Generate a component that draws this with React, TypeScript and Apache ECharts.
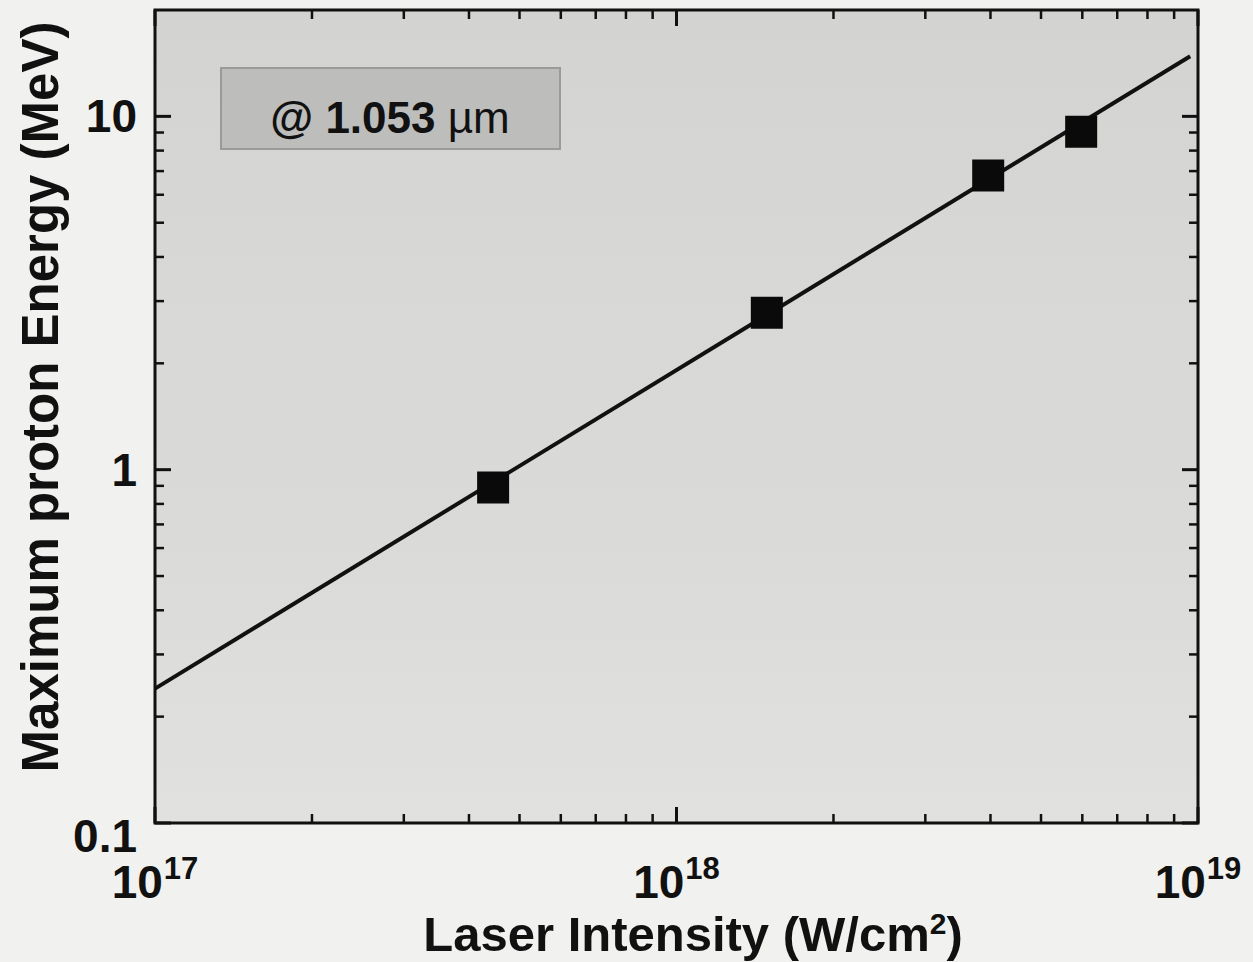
import React, { useEffect, useRef } from 'react';
import * as echarts from 'echarts';

// ---- data ----
const pointIntensity = [4.45e17, 1.49e18, 3.96e18, 5.97e18];
const pointEnergy = [0.89, 2.78, 6.8, 9.05];
const fitIntensity = [1e17, 9.66e18];
const fitEnergy = [0.24, 14.8];

const xMin = 1e17;
const xMax = 1e19;
const yMin = 0.1;
const yMax = 20;

const xTickValues = [1e17, 1e18, 1e19];
const xTickExponents = ['17', '18', '19'];
const yTickValues = [0.1, 1, 10];
const yTickLabels = ['0.1', '1', '10'];
const minorMultipliers = [2, 3, 4, 5, 6, 7, 8, 9];

const xTitleMain = 'Laser Intensity (W/cm';
const xTitleSup = '2';
const xTitleEnd = ')';
const yTitle = 'Maximum proton Energy (MeV)';
const annotationPrefix = '@ 1.053 ';
const annotationUnit = 'µm';

const FONT = '"Liberation Sans", Arial, Helvetica, sans-serif';

const sameLog = (a: number, b: number) => Math.abs(Math.log10(a) - Math.log10(b)) < 1e-6;

export default function App() {
  const ref = useRef<HTMLDivElement>(null);

  useEffect(() => {
    document.body.style.margin = '0';
    const chart = echarts.init(ref.current!, undefined, { renderer: 'svg' });

    const option: any = {
      animation: false,
      backgroundColor: '#f1f1ef',
      grid: {
        left: 155,
        right: 55,
        top: 10,
        bottom: 139,
        show: true,
        borderColor: '#111',
        borderWidth: 3,
        backgroundColor: new echarts.graphic.LinearGradient(0, 0, 0, 1, [
          { offset: 0, color: '#d3d3d2' },
          { offset: 0.35, color: '#d8d8d7' },
          { offset: 0.65, color: '#dadad9' },
          { offset: 1, color: '#e1e1e0' },
        ]),
      },
      xAxis: {
        type: 'log',
        logBase: 10,
        min: xMin,
        max: xMax,
        axisLine: { show: false },
        axisTick: { show: false },
        splitLine: { show: false },
        minorTick: { show: false },
        axisLabel: {
          margin: 30,
          color: '#111',
          fontFamily: FONT,
          fontWeight: 'bold',
          formatter: (v: number) => {
            const i = xTickValues.findIndex((t) => sameLog(t, v));
            return i < 0 ? '' : `{b|10}{s|${xTickExponents[i]}}`;
          },
          rich: {
            b: { fontSize: 46, fontWeight: 'bold', fontFamily: FONT, color: '#111', lineHeight: 52, verticalAlign: 'bottom' },
            s: { fontSize: 31, fontWeight: 'bold', fontFamily: FONT, color: '#111', lineHeight: 52, verticalAlign: 'top', padding: [0, 0, 0, 1] },
          },
        },
      },
      yAxis: {
        type: 'log',
        logBase: 10,
        min: yMin,
        max: yMax,
        axisLine: { show: false },
        axisTick: { show: false },
        splitLine: { show: false },
        minorTick: { show: false },
        axisLabel: {
          margin: 18,
          color: '#111',
          fontFamily: FONT,
          fontWeight: 'bold',
          fontSize: 46,
          formatter: (v: number) => {
            const i = yTickValues.findIndex((t) => sameLog(t, v));
            if (i < 0) return '';
            return i === 0 ? `{low|${yTickLabels[i]}}` : yTickLabels[i];
          },
          rich: {
            low: { fontSize: 46, fontWeight: 'bold', fontFamily: FONT, color: '#111', padding: [26, 0, 0, 0] },
          },
        },
      },
      series: [
        {
          type: 'line',
          data: fitIntensity.map((x, i) => [x, fitEnergy[i]]),
          showSymbol: false,
          lineStyle: { color: '#111', width: 4 },
          z: 3,
        },
        {
          type: 'scatter',
          data: pointIntensity.map((x, i) => [x, pointEnergy[i]]),
          symbol: 'rect',
          symbolSize: 32,
          itemStyle: { color: '#0a0a0a', opacity: 1 },
          z: 4,
        },
      ],
    };
    chart.setOption(option);

    const px = (x: number, y: number) => chart.convertToPixel({ gridIndex: 0 }, [x, y]) as number[];
    const [left, bottom] = px(xMin, yMin);
    const [right, top] = px(xMax, yMax);

    const ticks: any[] = [];
    const addTick = (x1: number, y1: number, x2: number, y2: number, w: number) =>
      ticks.push({ type: 'line', z: 20, shape: { x1, y1, x2, y2 }, style: { stroke: '#111', lineWidth: w } });

    const MAJ = 16;
    const MIN = 9;
    // x ticks (bottom & top)
    xTickValues.forEach((t) => {
      const x = px(t, yMin)[0];
      addTick(x, bottom, x, bottom - MAJ, 3);
      addTick(x, top, x, top + MAJ, 3);
      if (t < xMax) {
        minorMultipliers.forEach((m) => {
          const xm = px(t * m, yMin)[0];
          addTick(xm, bottom, xm, bottom - MIN, 2.5);
          addTick(xm, top, xm, top + MIN, 2.5);
        });
      }
    });
    // y ticks (left & right)
    yTickValues.forEach((t) => {
      const y = px(xMin, t)[1];
      addTick(left, y, left + MAJ, y, 3);
      addTick(right, y, right - MAJ, y, 3);
      minorMultipliers.forEach((m) => {
        const v = t * m;
        if (v >= yMax) return;
        const ym = px(xMin, v)[1];
        addTick(left, ym, left + MIN, ym, 2.5);
        addTick(right, ym, right - MIN, ym, 2.5);
      });
    });

    chart.setOption({
      graphic: [
        ...ticks,
        {
          type: 'rect',
          z: 5,
          shape: { x: 221, y: 68, width: 339, height: 81 },
          style: { fill: '#bdbdbc', stroke: '#9a9a9a', lineWidth: 2 },
        },
        {
          type: 'text',
          z: 6,
          x: 390,
          y: 117,
          style: {
            text: `{a|${annotationPrefix}}{u|${annotationUnit}}`,
            align: 'center',
            verticalAlign: 'middle',
            rich: {
              a: { fontSize: 44, fontWeight: 'bold', fontFamily: 'Liberation Sans', fill: '#111' },
              u: { fontSize: 44, fontWeight: 'normal', fontFamily: 'Liberation Sans', fill: '#111' },
            },
          },
        },
        {
          type: 'text',
          z: 6,
          x: 693,
          y: 933,
          style: {
            text: `{t|${xTitleMain}}{s|${xTitleSup}}{t|${xTitleEnd}}`,
            align: 'center',
            verticalAlign: 'middle',
            rich: {
              t: { fontSize: 49, fontWeight: 'bold', fontFamily: FONT, fill: '#111', lineHeight: 50, verticalAlign: 'bottom' },
              s: { fontSize: 30, fontWeight: 'bold', fontFamily: FONT, fill: '#111', lineHeight: 50, verticalAlign: 'top' },
            },
          },
        },
        {
          type: 'text',
          z: 6,
          x: 40,
          y: 397,
          rotation: Math.PI / 2,
          style: {
            text: yTitle,
            align: 'center',
            verticalAlign: 'middle',
            fontSize: 51,
            fontWeight: 'bold',
            fontFamily: FONT,
            fill: '#111',
          },
        },
      ],
    });

    return () => chart.dispose();
  }, []);

  return <div ref={ref} style={{ width: 1253, height: 962 }} />;
}
